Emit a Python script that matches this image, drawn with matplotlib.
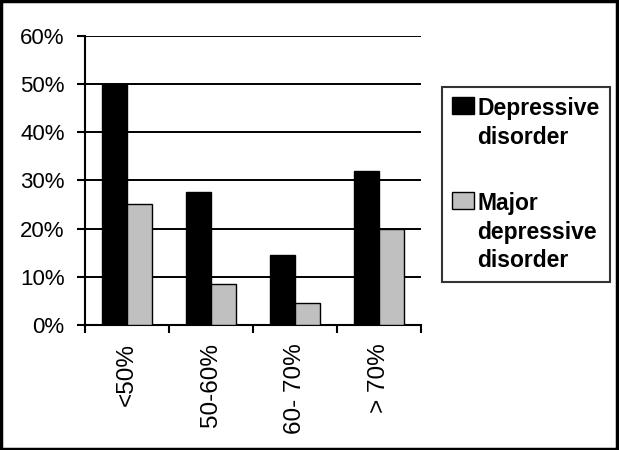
import matplotlib
matplotlib.use("Agg")
import matplotlib.pyplot as plt
from matplotlib.patches import Rectangle
import numpy as np

categories = ["<50%", "50-60%", "60- 70%", "> 70%"]
depressive = [50.0, 27.5, 14.5, 32.0]
major_depressive = [25.0, 8.5, 4.5, 20.0]
series_labels = ["Depressive\ndisorder", "Major\ndepressive\ndisorder"]
yticks = [0, 10, 20, 30, 40, 50, 60]

plt.rcParams['font.family'] = ['Liberation Sans', 'DejaVu Sans']

fig = plt.figure(figsize=(6.19, 4.5), dpi=100)
ax = fig.add_axes([84.7/619, 1-325/450, (421-84.7)/619, (325-35.7)/450])

x = np.arange(len(categories))
w = 0.3
ax.bar(x - 0.15, depressive, w, color='black', edgecolor='black', linewidth=1.0,
       label=series_labels[0], zorder=3)
ax.bar(x + 0.15, major_depressive, w, color='#c0c0c0', edgecolor='black', linewidth=1.0,
       label=series_labels[1], zorder=3)

ax.set_xlim(-0.5, len(categories) - 0.5)
ax.set_ylim(0, 60)
ax.set_yticks(yticks)
ax.set_yticklabels([f"{v}%" for v in yticks], fontsize=16)
for v in yticks[1:]:
    ax.axhline(v, color='black', linewidth=1.4, zorder=1)

ax.set_xticks(np.arange(-0.5, len(categories), 1.0))
ax.set_xticklabels([])
ax.set_xticks(x, minor=True)
ax.set_xticklabels(categories, minor=True, rotation=90, fontsize=17.5, va='top', ha='center')
ax.tick_params(axis='x', which='minor', length=0, pad=13)
ax.tick_params(axis='x', which='major', length=5.5, width=1.5, direction='out')
ax.tick_params(axis='y', length=5.5, width=1.5, direction='out', pad=9)

for s in ['top', 'right']:
    ax.spines[s].set_visible(False)
for s in ['left', 'bottom']:
    ax.spines[s].set_linewidth(1.5)

leg = fig.legend(loc='upper left', bbox_to_anchor=(442/619, 1-87/450),
                 prop={'size': 16.5, 'weight': 'bold'}, frameon=True, fancybox=False,
                 edgecolor='black', handlelength=0.95, handleheight=0.75,
                 handletextpad=0.15, labelspacing=1.9, borderpad=0.45,
                 borderaxespad=0)
leg.get_frame().set_linewidth(1.5)
for t in leg.get_texts():
    t.set_linespacing(1.3)
for col in leg._legend_handle_box.get_children():
    for item in col.get_children():
        item.align = "top"

fig.patches.append(Rectangle((0.002, 0.003), 0.995, 0.994, transform=fig.transFigure,
                             fill=False, edgecolor='black', linewidth=2.5))

fig.savefig("out.png", dpi=100)
